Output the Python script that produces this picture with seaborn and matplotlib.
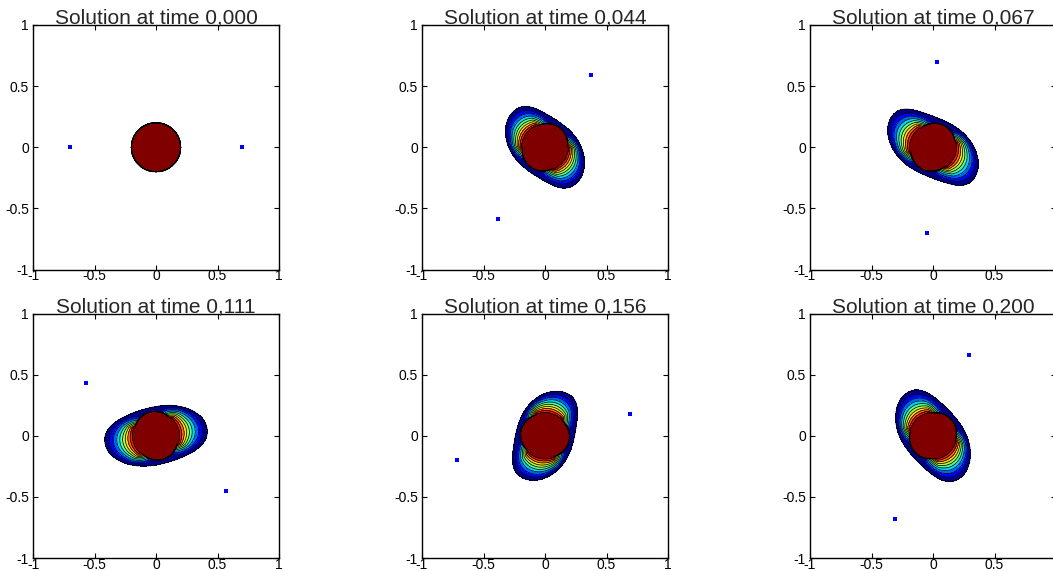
import numpy as np
import matplotlib
matplotlib.use("Agg")
import matplotlib.pyplot as plt
import seaborn as sns

# ---- data ----
times = [0.000, 0.044, 0.067, 0.111, 0.156, 0.200]
dot_x1 = [-0.70, 0.37, 0.03, -0.57, 0.69, 0.29]
dot_y1 = [0.00, 0.59, 0.70, 0.43, 0.18, 0.66]
dot_x2 = [0.70, -0.38, -0.05, 0.57, -0.715, -0.31]
dot_y2 = [0.00, -0.59, -0.70, -0.455, -0.195, -0.68]
core_axis_deg = [0, 146, 157, 15, 78, 132]      # direction of the coloured crescents
tip_reach = [0.0, 0.39, 0.42, 0.42, 0.39, 0.41]  # outer extent along the smear
side_width = [0.2, 0.235, 0.235, 0.235, 0.235, 0.235]
swirl = [0.0, 1.5, 1.2, 0.6, 1.5, 1.0]           # twist of the tips (rad / unit radius)
smear_on = [0, 1, 1, 1, 1, 1]
disk_radius = 0.2
core_along = 0.178                               # squeezed dark-red core along the smear
level_values = [0.02, 0.1, 0.2, 0.3, 0.4, 0.5, 0.6, 0.7, 0.8, 0.9, 1.0]
tick_values = [-1, -0.5, 0, 0.5, 1]
tick_labels = ["-1", "-0.5", "0", "0.5", "1"]

sns.set_style("ticks")
plt.rcParams['font.family'] = ['Liberation Sans', 'DejaVu Sans']
plt.rcParams['axes.unicode_minus'] = False

g = np.linspace(-1, 1, 701)
X, Y = np.meshgrid(g, g)
R = np.hypot(X, Y)
TH = np.arctan2(Y, X)


def build_field(i):
    if not smear_on[i]:
        return np.where(R <= disk_radius, 1.0, 0.0)
    a, b = tip_reach[i], side_width[i]
    al = np.deg2rad(core_axis_deg[i])
    phi0 = TH - al
    Rc = 1.0 / np.sqrt((np.cos(phi0) / core_along) ** 2 + (np.sin(phi0) / disk_radius) ** 2)
    phi = phi0 + swirl[i] * np.clip(R - disk_radius, 0, None)
    n = 2.1
    Rb = (np.abs(np.cos(phi) / a) ** n + np.abs(np.sin(phi) / b) ** n) ** (-1.0 / n)
    t = (R - Rc) / (Rb - Rc)
    s = np.clip((np.abs(np.cos(phi0)) - 0.42) / (0.85 - 0.42), 0, 1)
    A = 0.09 + (0.97 - 0.09) * s ** 1.3
    out = np.where((t >= 0) & (t < 1), 0.021 + (A - 0.021) * (1 - np.clip(t, 0, 1)) ** 1.35, 0.0)
    return np.where(R <= Rc, 1.0, out)


jet = plt.get_cmap('jet')
band_colors = [jet(v) for v in np.linspace(0, 1, len(level_values) - 1)]

fig = plt.figure(figsize=(10.53, 5.71), dpi=100)
col_x = [33 / 1053, 422 / 1053, 810 / 1053]
row_y = [1 - 269.5 / 571, 1 - 558 / 571]
w = 246 / 1053
h = 244.5 / 571

for i in range(6):
    ax = fig.add_axes([col_x[i % 3], row_y[i // 3], w, h])
    F = build_field(i)
    ax.contourf(X, Y, F, levels=level_values, colors=band_colors)
    ax.contour(X, Y, F, levels=level_values, colors='k', linewidths=0.55)
    sns.scatterplot(x=[dot_x1[i], dot_x2[i]], y=[dot_y1[i], dot_y2[i]], ax=ax,
                    marker='s', s=5, color='blue', linewidth=0, legend=False)
    ax.set_xlim(-1, 1)
    ax.set_ylim(-1, 1)
    ax.set_xticks(tick_values)
    ax.set_yticks(tick_values)
    ax.set_xticklabels(tick_labels)
    ax.set_yticklabels(tick_labels)
    ax.tick_params(direction='in', length=3.5, width=0.8, top=True, right=True,
                   labelsize=10, pad=3, colors='black')
    ax.tick_params(axis='x', pad=0)
    for sp in ax.spines.values():
        sp.set_linewidth(1.0)
        sp.set_color('black')
    ax.set_title("Solution at time " + f"{times[i]:.3f}".replace('.', ','),
                 fontsize=15, pad=1)

fig.savefig("out.png", dpi=100)
